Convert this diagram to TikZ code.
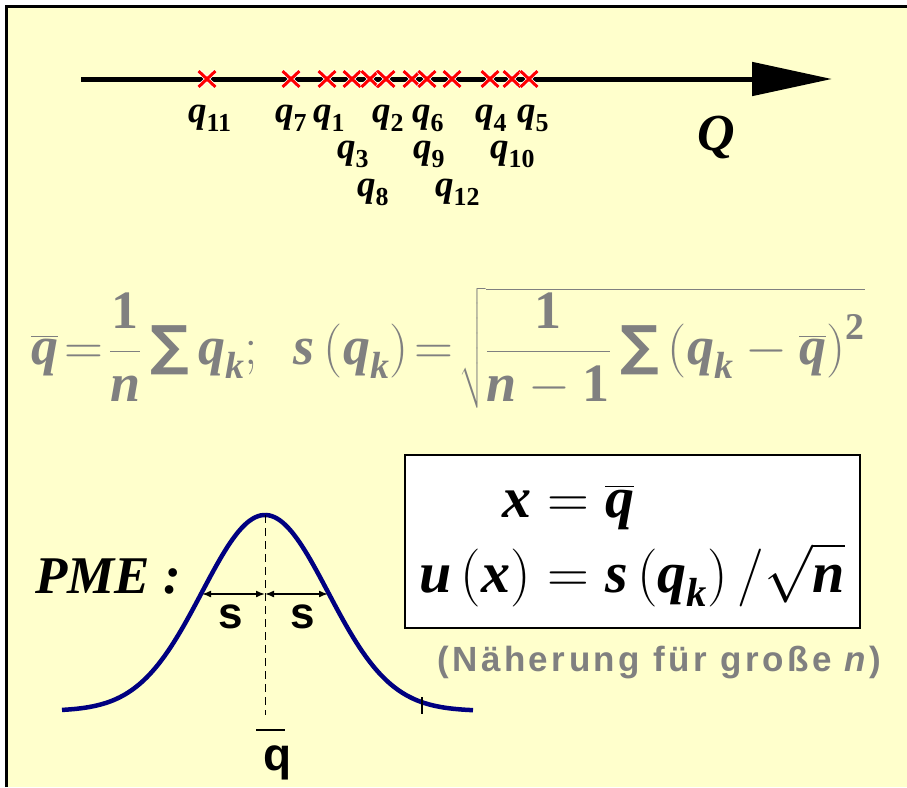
\RequirePackage{fix-cm}
\documentclass[tikz,border=0pt]{standalone}
\usepackage{amsmath}
\usepackage{fontspec}
\setmainfont{Liberation Serif}
\newfontfamily\arialfont{Liberation Sans}
\newfontfamily\symfont{DejaVu Sans}
\usepackage{tikz}
\usetikzlibrary{arrows.meta, positioning, shapes.misc, calc}
\definecolor{bgyellow}{RGB}{255,255,204}
\definecolor{fgray}{RGB}{128,128,128}
\definecolor{curvenavy}{RGB}{0,0,128}
\newcommand{\mv}[1]{\text{\bfseries\itshape #1}}
\newcommand{\qlab}[1]{$\mv{q}_{\text{\bfseries #1}}$}
\newcommand{\bigsum}{\mathop{\text{\symfont\bfseries ∑}}\nolimits}
\newcommand{\teq}{\mathrel{\mkern-3mu=\mkern-3mu}}

\begin{document}
\begin{tikzpicture}[
    x=1pt, y=-1pt,
    xmark/.style={cross out, draw=white, double=red, line width=0.8pt, double distance=3pt, minimum width=16pt, minimum height=15pt, inner sep=0pt},
    qlbl/.style={anchor=base west, inner sep=0pt, font=\fontsize{37}{40}\selectfont},
    axis/.style={line width=5pt, -{Triangle[length=80pt, width=33pt]}},
    gauss/.style={line width=4.5pt, color=curvenavy},
    sarr/.style={line width=1.6pt, {Latex[length=9pt, width=7pt]}-{Latex[length=9pt, width=7pt]}},
    slbl/.style={anchor=base, inner sep=0pt, font=\arialfont\bfseries\fontsize{44}{48}\selectfont},
    resbox/.style={draw, line width=2pt, fill=white, minimum width=455pt, minimum height=173pt, inner sep=0pt, font=\fontsize{58}{70}\selectfont},
]
    % Page
    \useasboundingbox (0,0) rectangle (907,787);
    \fill[white] (0,0) rectangle (907,787);
    \fill[bgyellow] (5,5) rectangle (907,787);
    \draw[line width=3pt] (6.5,787) -- (6.5,6.5) -- (907,6.5);

    % Axis with measured values
    \coordinate (qstart) at (81,79);
    \coordinate (qend) at (832,79);
    \draw[axis] (qstart) -- (qend);
    \foreach \xc [count=\i] in {207,291,327,352,370,386,412,427,452,490,512,529}
        \node[xmark] (c\i) at (\xc,79) {};
    \foreach \xl/\yl/\s in {188/122/11, 275/122/7, 313/122/1, 372/122/2, 412/122/6, 475/122/4, 517/122/5,
                            337/158/3, 413/158/9, 490/158/10, 357/196/8, 435/196/12}
        \node[qlbl] (l\s) at (\xl,\yl) {\qlab{\s}};
    \node[anchor=base west, inner sep=0pt, font=\fontsize{52}{56}\selectfont] (qaxis) at (697,150) {$\mv{Q}$};

    % Mean and standard deviation
    \node[text=fgray, font=\fontsize{54}{60}\selectfont] (stat) at (448,348)
        {$\overline{\mv{q}}\teq\dfrac{\text{\bfseries 1}}{\mv{n}}\bigsum\mv{q}_{\mv{k}};\ \ \mv{s}\left(\mv{q}_{\mv{k}}\right)\teq\sqrt{\dfrac{\text{\bfseries 1}}{\mv{n}-\text{\bfseries 1}}\bigsum\left(\mv{q}_{\mv{k}}-\overline{\mv{q}}\right)^{\text{\bfseries 2}}}$};

    % Result box
    \node[resbox] (res) at (632,541)
        {$\begin{aligned}\mv{x}&=\overline{\mv{q}}\\ \mv{u}\left(\mv{x}\right)&=\mv{s}\left(\mv{q}_{\mv{k}}\right)/\sqrt{\mv{n}}\end{aligned}$};
    \node[anchor=west, inner sep=0pt, text=fgray, font=\arialfont\bfseries\fontsize{35}{38}\selectfont\addfontfeature{LetterSpace=10}] (note) at (437,663)
        {(Näherung für große \textit{n})};

    % PME
    \node[anchor=base west, inner sep=0pt, font=\fontsize{53}{58}\selectfont\bfseries\itshape] (pme) at (35,593) {PME :};
    \draw[gauss] plot[domain=62:473, samples=150] (\x, {711-196*exp(-0.5*((\x-265)/63)^2)});
    \coordinate (peak) at (265,515);
    \coordinate (foot) at (265,715);
    \coordinate (sl) at (202,594);
    \coordinate (sm) at (265,594);
    \coordinate (sr) at (328,594);
    \draw[line width=1pt, dash pattern=on 8pt off 5pt] (peak) -- (foot);
    \draw[sarr] (sl) -- (sm);
    \draw[sarr] (sm) -- (sr);
    \node[slbl] (s1) at (231,628) {s};
    \node[slbl] (s2) at (303,628) {s};
    \draw[line width=1.5pt] (422,697) -- (422,714);
    \node[anchor=base west, inner sep=0pt, font=\arialfont\bfseries\fontsize{46}{50}\selectfont] (qmean) at (263,770) {q};
    \draw[line width=2pt] ([xshift=-7pt, yshift=15pt]qmean.north west) -- ([xshift=-7pt, yshift=15pt]qmean.north east);
\end{tikzpicture}
\end{document}
